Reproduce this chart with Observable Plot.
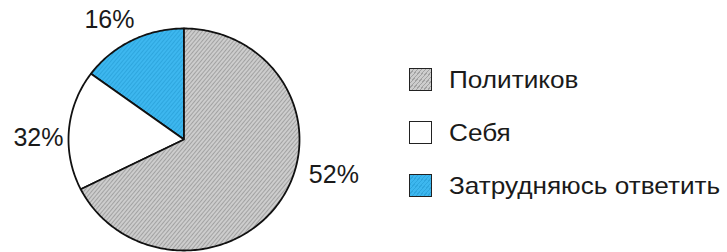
<!DOCTYPE html>
<html>
<head>
<meta charset="utf-8">
<script src="https://cdn.jsdelivr.net/npm/d3@7"></script>
<script src="https://cdn.jsdelivr.net/npm/@observablehq/plot@0.6"></script>
<style>
  html, body { margin: 0; padding: 0; background: #fff; }
  #wrap { position: relative; width: 727px; height: 252px; overflow: hidden; font-family: "Liberation Sans", Arial, Helvetica, sans-serif; }
  #legend { position: absolute; left: 409px; top: 68px; }
  .row { position: relative; display: block; height: 24px; margin-bottom: 29px; font-size: 24px; color: #1a1a1a; white-space: nowrap; }
  .sw { position: absolute; left: 0; top: 0; width: 21px; height: 21px; border: 1.5px solid #222; }
  .tx { position: absolute; left: 40px; top: 0; line-height: 24px; display: inline-block; transform: scaleX(1.09); transform-origin: left center; }
  svg.defs { position: absolute; width: 0; height: 0; }
</style>
</head>
<body>
<svg class="defs" aria-hidden="true">
  <defs>
    <pattern id="hatchGray" patternUnits="userSpaceOnUse" width="3" height="3" patternTransform="rotate(-50)">
      <rect width="3" height="3" fill="#cdcdcd"></rect>
      <line x1="0" y1="0.5" x2="3" y2="0.5" stroke="#a2a2a2" stroke-width="1"></line>
    </pattern>
    <pattern id="hatchBlue" patternUnits="userSpaceOnUse" width="3" height="3" patternTransform="rotate(-50)">
      <rect width="3" height="3" fill="#3db7ef"></rect>
      <line x1="0" y1="0.5" x2="3" y2="0.5" stroke="#2ea6de" stroke-width="1"></line>
    </pattern>
  </defs>
</svg>
<div id="wrap"></div>
<script>
// Categories in counter-clockwise order from 12 o'clock
const categories = ["Затрудняюсь ответить", "Себя", "Политиков"];
// Percentages printed on the chart
const percentLabels = [16, 32, 52];
const drawnShares = [14.9, 17.5, 67.6];
// Legend order
const legendOrder = ["Политиков", "Себя", "Затрудняюсь ответить"];
const fills = {"Политиков": "url(#hatchGray)", "Себя": "#ffffff", "Затрудняюсь ответить": "url(#hatchBlue)"};
const swatchFills = {"Политиков": "repeating-linear-gradient(-50deg,#cdcdcd 0 2px,#a2a2a2 2px 3px)", "Себя": "#ffffff", "Затрудняюсь ответить": "repeating-linear-gradient(-50deg,#3db7ef 0 2px,#2ea6de 2px 3px)"};

const W = 727, H = 252;
const cx = 183.5, cy = 139, Rx = 115.5, Ry = 111; // pixel layout of the pie

const total = d3.sum(drawnShares);
let acc = 0;
const slices = categories.map((c, i) => {
  const a0 = acc / total * 2 * Math.PI;
  acc += drawnShares[i];
  const a1 = acc / total * 2 * Math.PI;
  return {category: c, label: percentLabels[i] + "%", a0, a1};
});

// angle measured counter-clockwise from 12 o'clock, unit circle
const pt = (a, r) => ({x: -Math.sin(a) * r, y: Math.cos(a) * r});

const polys = [];
for (const s of slices) {
  polys.push({category: s.category, ...pt(0, 0)});
  const n = Math.max(4, Math.ceil((s.a1 - s.a0) / (Math.PI / 180)));
  for (let k = 0; k <= n; k++) polys.push({category: s.category, ...pt(s.a0 + (s.a1 - s.a0) * k / n, 1)});
}

const labelTurn = 4 * Math.PI / 180; // labels sit slightly counter-clockwise of the mid-angle
const labels = slices.map(s => {
  const m = (s.a0 + s.a1) / 2 + labelTurn;
  return {...pt(m, 1.26), label: s.label, big: (s.a1 - s.a0) > Math.PI};
});

const marks = categories.map(c =>
  Plot.line(polys.filter(d => d.category === c), {
    x: "x", y: "y", curve: "linear-closed",
    fill: fills[c], stroke: "#111", strokeWidth: 1.8, strokeLinejoin: "round"
  })
);
const textStyle = {x: "x", y: "y", text: "label", textAnchor: "middle", fontSize: 25, fill: "#1a1a1a"};
marks.push(
  Plot.text(labels.filter(d => !d.big), {...textStyle, dy: 1}),
  // the large slice's label sits lower-right of its mid-angle, beside the rim
  Plot.text(labels.filter(d => d.big), {...textStyle, dx: 21, dy: -29})
);

const chart = Plot.plot({
  width: W, height: H,
  margin: 0,
  style: {fontFamily: "Liberation Sans, Arial, Helvetica, sans-serif", background: "transparent"},
  x: {domain: [-cx / Rx, (W - cx) / Rx], range: [0, W], axis: null},
  y: {domain: [-(H - cy) / Ry, cy / Ry], range: [H, 0], axis: null},
  marks
});
const wrap = document.getElementById("wrap");
wrap.appendChild(chart);

const legend = document.createElement("div");
legend.id = "legend";
for (const c of legendOrder) {
  const row = document.createElement("div");
  row.className = "row";
  const sw = document.createElement("span");
  sw.className = "sw";
  sw.style.background = swatchFills[c];
  const t = document.createElement("span");
  t.className = "tx";
  t.textContent = c;
  row.appendChild(sw); row.appendChild(t);
  legend.appendChild(row);
}
wrap.appendChild(legend);
</script>
</body>
</html>
